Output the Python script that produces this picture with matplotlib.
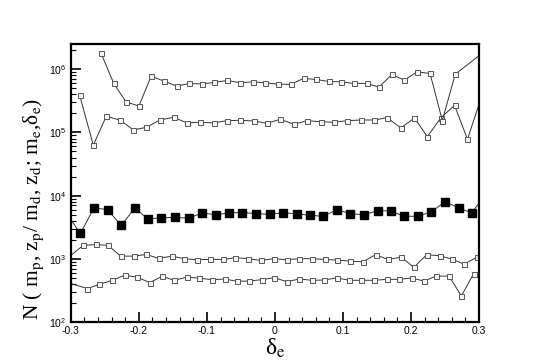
import matplotlib

matplotlib.use("Agg")
import matplotlib.pyplot as plt
from matplotlib.ticker import LogLocator, MultipleLocator, FixedLocator, NullFormatter

plt.rcParams["font.family"] = ["Liberation Sans", "DejaVu Sans"]

# --- data ---------------------------------------------------------------
# curve A: lowest open squares
delta_a = [-0.31, -0.276, -0.258, -0.239, -0.221, -0.203, -0.184, -0.166, -0.148,
           -0.129, -0.111, -0.093, -0.074, -0.056, -0.038, -0.019, -0.001, 0.017,
           0.036, 0.054, 0.072, 0.091, 0.109, 0.127, 0.146, 0.164, 0.182, 0.201,
           0.219, 0.237, 0.256, 0.274, 0.292, 0.31]
n_a = [440, 340, 396, 459, 550, 516, 422, 530, 459, 516, 495, 470, 481, 443, 447,
       470, 506, 437, 481, 459, 463, 502, 459, 459, 459, 475, 475, 499, 447, 535,
       535, 259, 585, 520]

# curve B: open squares near 1e3
delta_b = [-0.31, -0.282, -0.263, -0.245, -0.227, -0.207, -0.189, -0.171, -0.151,
           -0.133, -0.115, -0.096, -0.076, -0.058, -0.039, -0.021, -0.002, 0.017,
           0.036, 0.054, 0.073, 0.091, 0.110, 0.129, 0.148, 0.166, 0.186, 0.204,
           0.223, 0.242, 0.260, 0.278, 0.297]
n_b = [930, 1633, 1690, 1633, 1107, 1107, 1178, 1019, 1107, 1007, 971, 982, 982,
       1045, 1007, 946, 1007, 971, 1007, 1007, 982, 960, 923, 900, 1164, 982, 1067,
       734, 1164, 1123, 993, 828, 1067]

# curve C: filled squares (m_e, delta_e)
delta_c = [-0.31, -0.286, -0.266, -0.246, -0.226, -0.206, -0.187, -0.167, -0.147,
           -0.127, -0.107, -0.087, -0.068, -0.048, -0.028, -0.008, 0.012, 0.032,
           0.051, 0.071, 0.091, 0.111, 0.131, 0.151, 0.170, 0.190, 0.210, 0.230,
           0.250, 0.270, 0.289, 0.31]
n_c = [5970, 2524, 6397, 6019, 3376, 6397, 4296, 4456, 4554, 4392, 5346, 4970,
       5346, 5398, 5207, 5077, 5346, 5180, 4897, 4722, 6019, 5207, 4970, 5808,
       5739, 4722, 4722, 5539, 8054, 6397, 5346, 10500]

# curve D: open squares near 1.5e5
delta_d = [-0.287, -0.267, -0.248, -0.228, -0.208, -0.189, -0.169, -0.149, -0.130,
           -0.110, -0.090, -0.071, -0.051, -0.031, -0.012, 0.008, 0.028, 0.047,
           0.067, 0.087, 0.106, 0.126, 0.146, 0.165, 0.185, 0.205, 0.224, 0.244,
           0.264, 0.283, 0.303]
n_d = [385600, 62800, 179800, 157300, 109500, 120700, 157300, 173500, 142600,
       144500, 141300, 153500, 155800, 151700, 139700, 161400, 134600, 153500,
       147900, 144800, 153500, 157300, 157300, 171000, 117800, 169000, 85900,
       171000, 268000, 78100, 350000]

# curve E: top open squares
delta_e = [-0.256, -0.237, -0.219, -0.200, -0.182, -0.163, -0.144, -0.126, -0.107,
           -0.089, -0.070, -0.051, -0.033, -0.014, 0.004, 0.023, 0.042, 0.060,
           0.079, 0.097, 0.116, 0.135, 0.153, 0.172, 0.190, 0.209, 0.228, 0.246,
           0.265, 0.32]
n_e = [1833000, 596000, 305000, 261000, 776000, 647000, 540000, 596000, 584000,
       618000, 664000, 609000, 631000, 609000, 581000, 575000, 714000, 689000,
       640000, 631000, 596000, 596000, 521000, 826000, 671000, 908000, 856000,
       154000, 834000, 2400000]

x_ticks = [-0.3, -0.2, -0.1, 0.0, 0.1, 0.2, 0.3]
x_tick_labels = ["-0.3", "-0.2", "-0.1", "0", "0.1", "0.2", "0.3"]

# --- plot ---------------------------------------------------------------
fig = plt.figure(figsize=(5.45, 3.64), dpi=100)
ax = fig.add_axes([0.130, 0.115, 0.749, 0.764])

open_style = dict(color="#333333", linewidth=0.7, marker="s", markersize=3.6,
                  markerfacecolor="#f4f4f4", markeredgecolor="#555555",
                  markeredgewidth=0.7)
for xs, ys in [(delta_a, n_a), (delta_b, n_b), (delta_d, n_d), (delta_e, n_e)]:
    ax.plot(xs, ys, **open_style)

ax.plot(delta_c, n_c, color="#333333", linewidth=0.7, marker="s",
        markersize=5.8, markerfacecolor="black", markeredgecolor="black")

ax.set_yscale("log")
ax.set_xlim(-0.3, 0.3)
ax.set_ylim(100, 2.5e6)

ax.xaxis.set_major_locator(FixedLocator(x_ticks))
ax.set_xticklabels(x_tick_labels)
ax.xaxis.set_minor_locator(MultipleLocator(0.02))
ax.yaxis.set_major_locator(LogLocator(base=10, numticks=10))
ax.yaxis.set_minor_locator(LogLocator(base=10, subs=range(2, 10), numticks=10))
ax.yaxis.set_minor_formatter(NullFormatter())

ax.tick_params(which="both", direction="in", top=False, right=False,
               labelsize=7.5, width=1.2, color="black")
ax.tick_params(which="major", length=7, pad=3)
ax.tick_params(which="minor", length=3.5, width=0.8)

for side in ax.spines.values():
    side.set_linewidth(1.6)

ax.set_xlabel(r"δ$_\mathrm{e}$", family="Liberation Serif",
              math_fontfamily="stix", fontsize=17, labelpad=0)
ax.set_ylabel(r"N ( m$_\mathrm{p}$, z$_\mathrm{p}$/ m$_\mathrm{d}$, "
              r"z$_\mathrm{d}$; m$_\mathrm{e}$,δ$_\mathrm{e}$)",
              family="Liberation Serif", math_fontfamily="stix", fontsize=15.5)
ax.yaxis.set_label_coords(-0.06, 0.408)

fig.savefig("out.png", dpi=100)
plt.close(fig)
